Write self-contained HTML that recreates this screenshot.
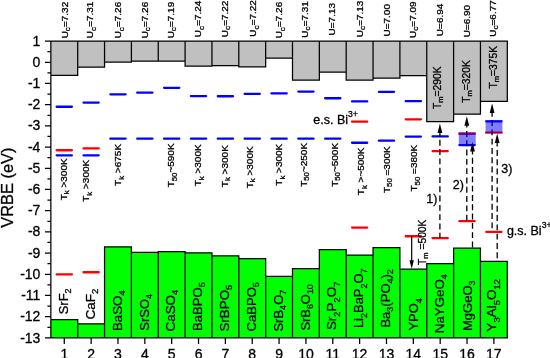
<!DOCTYPE html>
<html lang="en"><head><meta charset="utf-8"><title>VRBE diagram</title>
<style>html,body{margin:0;padding:0;background:#fff;}svg{display:block;}text{font-family:"Liberation Sans",sans-serif;fill:#000;stroke:#000;stroke-width:0.3px;}</style></head><body>
<svg width="550" height="358" viewBox="0 0 550 358">
<rect width="550" height="358" fill="#fff"/>
<rect x="50.85" y="41.05" width="26.85" height="34.35" fill="#c0c0c0"/>
<rect x="77.70" y="41.05" width="26.85" height="26.15" fill="#c0c0c0"/>
<rect x="104.55" y="41.05" width="26.85" height="21.05" fill="#c0c0c0"/>
<rect x="131.40" y="41.05" width="26.85" height="20.05" fill="#c0c0c0"/>
<rect x="158.25" y="41.05" width="26.85" height="20.05" fill="#c0c0c0"/>
<rect x="185.10" y="41.05" width="26.85" height="25.15" fill="#c0c0c0"/>
<rect x="211.95" y="41.05" width="26.85" height="24.55" fill="#c0c0c0"/>
<rect x="238.80" y="41.05" width="26.85" height="25.75" fill="#c0c0c0"/>
<rect x="265.65" y="41.05" width="26.85" height="17.05" fill="#c0c0c0"/>
<rect x="292.50" y="41.05" width="26.85" height="39.05" fill="#c0c0c0"/>
<rect x="319.35" y="41.05" width="26.85" height="31.15" fill="#c0c0c0"/>
<rect x="346.20" y="41.05" width="26.85" height="38.95" fill="#c0c0c0"/>
<rect x="373.05" y="41.05" width="26.85" height="37.15" fill="#c0c0c0"/>
<rect x="399.90" y="41.05" width="26.85" height="34.65" fill="#c0c0c0"/>
<rect x="426.75" y="41.05" width="26.85" height="80.65" fill="#c0c0c0"/>
<rect x="453.60" y="41.05" width="26.85" height="73.15" fill="#c0c0c0"/>
<rect x="480.45" y="41.05" width="26.85" height="60.35" fill="#c0c0c0"/>
<rect x="50.85" y="319.50" width="26.85" height="18.40" fill="#00ff00"/>
<rect x="77.70" y="323.80" width="26.85" height="14.10" fill="#00ff00"/>
<rect x="104.55" y="246.90" width="26.85" height="91.00" fill="#00ff00"/>
<rect x="131.40" y="252.40" width="26.85" height="85.50" fill="#00ff00"/>
<rect x="158.25" y="251.50" width="26.85" height="86.40" fill="#00ff00"/>
<rect x="185.10" y="252.90" width="26.85" height="85.00" fill="#00ff00"/>
<rect x="211.95" y="255.90" width="26.85" height="82.00" fill="#00ff00"/>
<rect x="238.80" y="258.60" width="26.85" height="79.30" fill="#00ff00"/>
<rect x="265.65" y="276.30" width="26.85" height="61.60" fill="#00ff00"/>
<rect x="292.50" y="268.60" width="26.85" height="69.30" fill="#00ff00"/>
<rect x="319.35" y="249.50" width="26.85" height="88.40" fill="#00ff00"/>
<rect x="346.20" y="255.20" width="26.85" height="82.70" fill="#00ff00"/>
<rect x="373.05" y="247.70" width="26.85" height="90.20" fill="#00ff00"/>
<rect x="399.90" y="269.00" width="26.85" height="68.90" fill="#00ff00"/>
<rect x="426.75" y="263.50" width="26.85" height="74.40" fill="#00ff00"/>
<rect x="453.60" y="248.20" width="26.85" height="89.70" fill="#00ff00"/>
<rect x="480.45" y="261.30" width="26.85" height="76.60" fill="#00ff00"/>
<path d="M50.85 40.43V338.52M44.95 41.05H507.92M44.95 337.9H507.92M50.23 75.40H78.32M50.23 319.50H78.32M77.70 41.05V75.40M77.70 319.50V337.9M77.08 67.20H105.17M77.08 323.80H105.17M104.55 41.05V67.20M104.55 246.90V337.9M103.93 62.10H132.02M103.93 246.90H132.02M131.40 41.05V62.10M131.40 246.90V337.9M130.78 61.10H158.87M130.78 252.40H158.87M158.25 41.05V61.10M158.25 251.50V337.9M157.63 61.10H185.72M157.63 251.50H185.72M185.10 41.05V66.20M185.10 251.50V337.9M184.48 66.20H212.57M184.48 252.90H212.57M211.95 41.05V66.20M211.95 252.90V337.9M211.33 65.60H239.42M211.33 255.90H239.42M238.80 41.05V66.80M238.80 255.90V337.9M238.18 66.80H266.27M238.18 258.60H266.27M265.65 41.05V66.80M265.65 258.60V337.9M265.03 58.10H293.12M265.03 276.30H293.12M292.50 41.05V80.10M292.50 268.60V337.9M291.88 80.10H319.97M291.88 268.60H319.97M319.35 41.05V80.10M319.35 249.50V337.9M318.73 72.20H346.82M318.73 249.50H346.82M346.20 41.05V80.00M346.20 249.50V337.9M345.58 80.00H373.67M345.58 255.20H373.67M373.05 41.05V80.00M373.05 247.70V337.9M372.43 78.20H400.52M372.43 247.70H400.52M399.90 41.05V78.20M399.90 247.70V337.9M399.28 75.70H427.37M399.28 269.00H427.37M426.75 41.05V121.70M426.75 263.50V337.9M426.13 121.70H454.22M426.13 263.50H454.22M453.60 41.05V121.70M453.60 248.20V337.9M452.98 114.20H481.07M452.98 248.20H481.07M480.45 41.05V114.20M480.45 248.20V337.9M479.83 101.40H507.92M479.83 261.30H507.92M507.30 41.05V101.40M507.30 261.30V337.9M44.95 62.25H50.85M44.95 83.46H50.85M44.95 104.66H50.85M44.95 125.86H50.85M44.95 147.07H50.85M44.95 168.27H50.85M44.95 189.47H50.85M44.95 210.68H50.85M44.95 231.88H50.85M44.95 253.09H50.85M44.95 274.29H50.85M44.95 295.49H50.85M44.95 316.70H50.85M47.45 51.65H50.85M47.45 72.86H50.85M47.45 94.06H50.85M47.45 115.26H50.85M47.45 136.47H50.85M47.45 157.67H50.85M47.45 178.87H50.85M47.45 200.08H50.85M47.45 221.28H50.85M47.45 242.48H50.85M47.45 263.69H50.85M47.45 284.89H50.85M47.45 306.09H50.85M47.45 327.30H50.85M64.28 337.9V344.00M91.12 337.9V344.00M117.97 337.9V344.00M144.83 337.9V344.00M171.68 337.9V344.00M198.53 337.9V344.00M225.38 337.9V344.00M252.22 337.9V344.00M279.08 337.9V344.00M305.93 337.9V344.00M332.78 337.9V344.00M359.63 337.9V344.00M386.48 337.9V344.00M413.33 337.9V344.00M440.18 337.9V344.00M467.03 337.9V344.00M493.88 337.9V344.00" fill="none" stroke="#000" stroke-width="1.25"/>
<g font-size="14" text-anchor="end">
<text x="40.4" y="45.65">1</text>
<text x="40.4" y="66.85">0</text>
<text x="40.4" y="88.06">-1</text>
<text x="40.4" y="109.26">-2</text>
<text x="40.4" y="130.46">-3</text>
<text x="40.4" y="151.67">-4</text>
<text x="40.4" y="172.87">-5</text>
<text x="40.4" y="194.07">-6</text>
<text x="40.4" y="215.28">-7</text>
<text x="40.4" y="236.48">-8</text>
<text x="40.4" y="257.69">-9</text>
<text x="40.4" y="278.89">-10</text>
<text x="40.4" y="300.09">-11</text>
<text x="40.4" y="321.30">-12</text>
<text x="40.4" y="342.50">-13</text>
</g>
<g font-size="14" text-anchor="middle">
<text x="64.28" y="359.2">1</text>
<text x="91.12" y="359.2">2</text>
<text x="117.97" y="359.2">3</text>
<text x="144.83" y="359.2">4</text>
<text x="171.68" y="359.2">5</text>
<text x="198.53" y="359.2">6</text>
<text x="225.38" y="359.2">7</text>
<text x="252.22" y="359.2">8</text>
<text x="279.08" y="359.2">9</text>
<text x="305.93" y="359.2">10</text>
<text x="332.78" y="359.2">11</text>
<text x="359.63" y="359.2">12</text>
<text x="386.48" y="359.2">13</text>
<text x="413.33" y="359.2">14</text>
<text x="440.18" y="359.2">15</text>
<text x="467.03" y="359.2">16</text>
<text x="493.88" y="359.2">17</text>
</g>
<text font-size="16.4" text-anchor="middle" transform="translate(13.1,187.6) rotate(-90)">VRBE (eV)</text>
<line x1="56.68" y1="106.75" x2="71.88" y2="106.75" stroke="#0000ff" stroke-width="2.3" stroke-linecap="round"/>
<line x1="83.53" y1="102.55" x2="98.72" y2="102.55" stroke="#0000ff" stroke-width="2.3" stroke-linecap="round"/>
<line x1="110.38" y1="94.35" x2="125.57" y2="94.35" stroke="#0000ff" stroke-width="2.3" stroke-linecap="round"/>
<line x1="137.23" y1="92.65" x2="152.43" y2="92.65" stroke="#0000ff" stroke-width="2.3" stroke-linecap="round"/>
<line x1="164.08" y1="87.85" x2="179.28" y2="87.85" stroke="#0000ff" stroke-width="2.3" stroke-linecap="round"/>
<line x1="190.93" y1="96.05" x2="206.12" y2="96.05" stroke="#0000ff" stroke-width="2.3" stroke-linecap="round"/>
<line x1="217.78" y1="96.25" x2="232.97" y2="96.25" stroke="#0000ff" stroke-width="2.3" stroke-linecap="round"/>
<line x1="244.62" y1="93.85" x2="259.82" y2="93.85" stroke="#0000ff" stroke-width="2.3" stroke-linecap="round"/>
<line x1="271.48" y1="93.45" x2="286.68" y2="93.45" stroke="#0000ff" stroke-width="2.3" stroke-linecap="round"/>
<line x1="298.32" y1="91.55" x2="313.53" y2="91.55" stroke="#0000ff" stroke-width="2.3" stroke-linecap="round"/>
<line x1="325.18" y1="98.25" x2="340.38" y2="98.25" stroke="#0000ff" stroke-width="2.3" stroke-linecap="round"/>
<line x1="352.03" y1="101.45" x2="367.23" y2="101.45" stroke="#0000ff" stroke-width="2.3" stroke-linecap="round"/>
<line x1="378.88" y1="91.85" x2="394.08" y2="91.85" stroke="#0000ff" stroke-width="2.3" stroke-linecap="round"/>
<line x1="405.73" y1="101.15" x2="420.93" y2="101.15" stroke="#0000ff" stroke-width="2.3" stroke-linecap="round"/>
<line x1="56.68" y1="155.35" x2="71.88" y2="155.35" stroke="#0000ff" stroke-width="2.3" stroke-linecap="round"/>
<line x1="83.53" y1="155.35" x2="98.72" y2="155.35" stroke="#0000ff" stroke-width="2.3" stroke-linecap="round"/>
<line x1="110.38" y1="138.65" x2="125.57" y2="138.65" stroke="#0000ff" stroke-width="2.3" stroke-linecap="round"/>
<line x1="137.23" y1="138.65" x2="152.43" y2="138.65" stroke="#0000ff" stroke-width="2.3" stroke-linecap="round"/>
<line x1="164.08" y1="138.65" x2="179.28" y2="138.65" stroke="#0000ff" stroke-width="2.3" stroke-linecap="round"/>
<line x1="190.93" y1="138.65" x2="206.12" y2="138.65" stroke="#0000ff" stroke-width="2.3" stroke-linecap="round"/>
<line x1="217.78" y1="138.65" x2="232.97" y2="138.65" stroke="#0000ff" stroke-width="2.3" stroke-linecap="round"/>
<line x1="244.62" y1="138.65" x2="259.82" y2="138.65" stroke="#0000ff" stroke-width="2.3" stroke-linecap="round"/>
<line x1="271.48" y1="138.65" x2="286.68" y2="138.65" stroke="#0000ff" stroke-width="2.3" stroke-linecap="round"/>
<line x1="298.32" y1="138.65" x2="313.53" y2="138.65" stroke="#0000ff" stroke-width="2.3" stroke-linecap="round"/>
<line x1="325.18" y1="138.65" x2="340.38" y2="138.65" stroke="#0000ff" stroke-width="2.3" stroke-linecap="round"/>
<line x1="352.03" y1="142.75" x2="367.23" y2="142.75" stroke="#0000ff" stroke-width="2.3" stroke-linecap="round"/>
<line x1="378.88" y1="140.65" x2="394.08" y2="140.65" stroke="#0000ff" stroke-width="2.3" stroke-linecap="round"/>
<line x1="405.73" y1="136.55" x2="420.93" y2="136.55" stroke="#0000ff" stroke-width="2.3" stroke-linecap="round"/>
<line x1="432.58" y1="136.45" x2="447.78" y2="136.45" stroke="#0000ff" stroke-width="2.3" stroke-linecap="round"/>
<line x1="56.68" y1="150.25" x2="71.88" y2="150.25" stroke="#ff0000" stroke-width="2.3" stroke-linecap="round"/>
<line x1="83.53" y1="148.45" x2="98.72" y2="148.45" stroke="#ff0000" stroke-width="2.3" stroke-linecap="round"/>
<line x1="352.03" y1="121.65" x2="367.23" y2="121.65" stroke="#ff0000" stroke-width="2.3" stroke-linecap="round"/>
<line x1="405.73" y1="119.35" x2="420.93" y2="119.35" stroke="#ff0000" stroke-width="2.3" stroke-linecap="round"/>
<line x1="432.58" y1="151.05" x2="447.78" y2="151.05" stroke="#ff0000" stroke-width="2.3" stroke-linecap="round"/>
<line x1="56.68" y1="274.45" x2="71.88" y2="274.45" stroke="#ff0000" stroke-width="2.3" stroke-linecap="round"/>
<line x1="83.53" y1="272.25" x2="98.72" y2="272.25" stroke="#ff0000" stroke-width="2.3" stroke-linecap="round"/>
<line x1="352.03" y1="227.55" x2="367.23" y2="227.55" stroke="#ff0000" stroke-width="2.3" stroke-linecap="round"/>
<line x1="405.73" y1="236.25" x2="420.93" y2="236.25" stroke="#ff0000" stroke-width="2.3" stroke-linecap="round"/>
<line x1="432.58" y1="238.15" x2="447.78" y2="238.15" stroke="#ff0000" stroke-width="2.3" stroke-linecap="round"/>
<line x1="459.43" y1="221.15" x2="474.63" y2="221.15" stroke="#ff0000" stroke-width="2.3" stroke-linecap="round"/>
<line x1="486.28" y1="231.95" x2="501.48" y2="231.95" stroke="#ff0000" stroke-width="2.3" stroke-linecap="round"/>
<line x1="459.23" y1="133.75" x2="474.83" y2="133.75" stroke="#ff0000" stroke-width="2.3" stroke-linecap="round"/>
<line x1="459.43" y1="145.05" x2="474.63" y2="145.05" stroke="#0000ff" stroke-width="2.3" stroke-linecap="round"/>
<line x1="486.28" y1="121.45" x2="501.48" y2="121.45" stroke="#0000ff" stroke-width="2.3" stroke-linecap="round"/>
<line x1="486.08" y1="132.65" x2="501.68" y2="132.65" stroke="#ff0000" stroke-width="2.3" stroke-linecap="round"/>
<line x1="439.9" y1="132.60" x2="439.9" y2="238.0" stroke="#000" stroke-width="1.3" stroke-dasharray="5.9 3.4" stroke-dashoffset="2.10"/>
<line x1="466.8" y1="125.30" x2="466.8" y2="221.0" stroke="#000" stroke-width="1.3" stroke-dasharray="5.9 3.4" stroke-dashoffset="3.60"/>
<line x1="472.5" y1="151.10" x2="472.5" y2="248.2" stroke="#000" stroke-width="1.3" stroke-dasharray="5.9 3.4" stroke-dashoffset="2.60"/>
<line x1="492.1" y1="112.50" x2="492.1" y2="231.8" stroke="#000" stroke-width="1.3" stroke-dasharray="5.9 3.4" stroke-dashoffset="1.70"/>
<line x1="497.2" y1="142.50" x2="497.2" y2="261.3" stroke="#000" stroke-width="1.3" stroke-dasharray="5.9 3.4" stroke-dashoffset="1.80"/>
<rect x="458.8" y="132.2" width="16.9" height="13.5" fill="#0000ff" fill-opacity="0.5"/>
<rect x="485.6" y="120.0" width="16.8" height="12.9" fill="#0000ff" fill-opacity="0.5"/>
<polygon points="439.9,123.5 437.5,133.1 442.29999999999995,133.1" fill="#000"/>
<polygon points="466.8,116.2 464.40000000000003,125.8 469.2,125.8" fill="#000"/>
<polygon points="472.5,142.0 470.1,151.6 474.9,151.6" fill="#000"/>
<polygon points="492.1,103.4 489.70000000000005,113.0 494.5,113.0" fill="#000"/>
<polygon points="497.2,133.4 494.8,143.0 499.59999999999997,143.0" fill="#000"/>
<line x1="411.7" y1="236.1" x2="411.7" y2="262" stroke="#000" stroke-width="1.2"/>
<polygon points="411.7,268.8 409.5,260.3 413.9,260.3" fill="#000"/>
<g font-size="13.3" stroke-width="0.22" text-anchor="middle">
<text xml:space="preserve" transform="translate(67.98,301.35) rotate(-90) scale(0.976,1)">SrF<tspan font-size="9.2" dy="3.3">2</tspan></text>
<text xml:space="preserve" transform="translate(94.83,304.20) rotate(-90) scale(1.019,1)">CaF<tspan font-size="9.2" dy="3.3">2</tspan></text>
<text xml:space="preserve" transform="translate(122.17,310.75) rotate(-90) scale(1.002,1)">BaSO<tspan font-size="9.2" dy="3.3">4</tspan></text>
<text xml:space="preserve" transform="translate(149.03,312.35) rotate(-90) scale(0.975,1)">SrSO<tspan font-size="9.2" dy="3.3">4</tspan></text>
<text xml:space="preserve" transform="translate(174.78,310.65) rotate(-90) scale(1.014,1)">CaSO<tspan font-size="9.2" dy="3.3">4</tspan></text>
<text xml:space="preserve" transform="translate(202.12,306.60) rotate(-90) scale(0.990,1)">BaBPO<tspan font-size="9.2" dy="3.3">5</tspan></text>
<text xml:space="preserve" transform="translate(228.97,308.15) rotate(-90) scale(1.008,1)">SrBPO<tspan font-size="9.2" dy="3.3">5</tspan></text>
<text xml:space="preserve" transform="translate(255.82,306.85) rotate(-90) scale(0.986,1)">CaBPO<tspan font-size="9.2" dy="3.3">5</tspan></text>
<text xml:space="preserve" transform="translate(282.68,310.65) rotate(-90) scale(0.980,1)">SrB<tspan font-size="9.2" dy="3.3">4</tspan><tspan dy="-3.3">O</tspan><tspan font-size="9.2" dy="3.3">7</tspan></text>
<text xml:space="preserve" transform="translate(309.53,307.40) rotate(-90) scale(0.970,1)">SrB<tspan font-size="9.2" dy="3.3">6</tspan><tspan dy="-3.3">O</tspan><tspan font-size="9.2" dy="3.3">10</tspan></text>
<text xml:space="preserve" transform="translate(336.38,305.90) rotate(-90) scale(1.011,1)">Sr<tspan font-size="9.2" dy="3.3">2</tspan><tspan dy="-3.3">P</tspan><tspan font-size="9.2" dy="3.3">2</tspan><tspan dy="-3.3">O</tspan><tspan font-size="9.2" dy="3.3">7</tspan></text>
<text xml:space="preserve" transform="translate(363.23,298.25) rotate(-90) scale(0.976,1)">Li<tspan font-size="9.2" dy="3.3">2</tspan><tspan dy="-3.3">BaP</tspan><tspan font-size="9.2" dy="3.3">2</tspan><tspan dy="-3.3">O</tspan><tspan font-size="9.2" dy="3.3">7</tspan></text>
<text xml:space="preserve" transform="translate(390.08,298.35) rotate(-90) scale(0.980,1)">Ba<tspan font-size="9.2" dy="3.3">3</tspan><tspan dy="-3.3">(PO</tspan><tspan font-size="9.2" dy="3.3">4</tspan><tspan dy="-3.3">)</tspan><tspan font-size="9.2" dy="3.3">2</tspan></text>
<text xml:space="preserve" transform="translate(418.23,314.40) rotate(-90) scale(0.970,1)">YPO<tspan font-size="9.2" dy="3.3">4</tspan></text>
<text xml:space="preserve" transform="translate(443.78,303.60) rotate(-90) scale(1.002,1)">NaYGeO<tspan font-size="9.2" dy="3.3">4</tspan></text>
<text xml:space="preserve" transform="translate(471.63,305.73) rotate(-90) scale(0.982,1)">MgGeO<tspan font-size="9.2" dy="3.3">3</tspan></text>
<text xml:space="preserve" transform="translate(496.48,305.35) rotate(-90) scale(1.023,1)">Y<tspan font-size="9.2" dy="3.3">3</tspan><tspan dy="-3.3">Al</tspan><tspan font-size="9.2" dy="3.3">5</tspan><tspan dy="-3.3">O</tspan><tspan font-size="9.2" dy="3.3">12</tspan></text>
</g>
<g font-size="10" text-anchor="middle">
<text xml:space="preserve" transform="translate(66.55,179.35) rotate(-90) scale(1,0.92)">T<tspan font-size="7.8" dy="2.8">k</tspan><tspan dy="-2.8"> &gt;300K</tspan></text>
<text xml:space="preserve" transform="translate(89.25,180.80) rotate(-90) scale(1,0.92)">T<tspan font-size="7.8" dy="2.8">k</tspan><tspan dy="-2.8"> &gt;300K</tspan></text>
<text xml:space="preserve" transform="translate(121.45,164.90) rotate(-90) scale(1,0.92)">T<tspan font-size="7.8" dy="2.8">k</tspan><tspan dy="-2.8"> &gt;675K</tspan></text>
<text xml:space="preserve" transform="translate(174.25,165.40) rotate(-90) scale(1,0.92)">T<tspan font-size="7.8" dy="2.8">50</tspan><tspan dy="-2.8">~590K</tspan></text>
<text xml:space="preserve" transform="translate(201.45,165.35) rotate(-90) scale(1,0.92)">T<tspan font-size="7.8" dy="2.8">k</tspan><tspan dy="-2.8"> &gt;300K</tspan></text>
<text xml:space="preserve" transform="translate(227.85,166.15) rotate(-90) scale(1,0.92)">T<tspan font-size="7.8" dy="2.8">k</tspan><tspan dy="-2.8"> &gt;300K</tspan></text>
<text xml:space="preserve" transform="translate(252.55,167.35) rotate(-90) scale(1,0.92)">T<tspan font-size="7.8" dy="2.8">k</tspan><tspan dy="-2.8"> &gt;300K</tspan></text>
<text xml:space="preserve" transform="translate(282.25,164.70) rotate(-90) scale(1,0.92)">T<tspan font-size="7.8" dy="2.8">k</tspan><tspan dy="-2.8"> &gt;300K</tspan></text>
<text xml:space="preserve" transform="translate(306.85,164.90) rotate(-90) scale(1,0.92)">T<tspan font-size="7.8" dy="2.8">50</tspan><tspan dy="-2.8">~250K</tspan></text>
<text xml:space="preserve" transform="translate(337.55,164.90) rotate(-90) scale(1,0.92)">T<tspan font-size="7.8" dy="2.8">50</tspan><tspan dy="-2.8">~500K</tspan></text>
<text xml:space="preserve" transform="translate(364.45,171.35) rotate(-90) scale(1,0.92)">T<tspan font-size="7.8" dy="2.8">k</tspan><tspan dy="-2.8"> &gt;~500K</tspan></text>
<text xml:space="preserve" transform="translate(389.55,169.70) rotate(-90) scale(1,0.92)">T<tspan font-size="7.8" dy="2.8">50</tspan><tspan dy="-2.8"> =300K</tspan></text>
<text xml:space="preserve" transform="translate(417.05,168.15) rotate(-90) scale(1,0.92)">T<tspan font-size="7.8" dy="2.8">50</tspan><tspan dy="-2.8"> =380K</tspan></text>
</g>
<g font-size="10" text-anchor="middle">
<text transform="translate(67.80,20.10) rotate(-90) scale(1,0.94)">U<tspan font-size="8.2" dy="2.6">c</tspan><tspan dy="-2.6">=7.32</tspan></text>
<text transform="translate(93.40,19.90) rotate(-90) scale(1,0.94)">U<tspan font-size="8.2" dy="2.6">c</tspan><tspan dy="-2.6">=7.31</tspan></text>
<text transform="translate(121.30,20.10) rotate(-90) scale(1,0.94)">U<tspan font-size="8.2" dy="2.6">c</tspan><tspan dy="-2.6">=7.26</tspan></text>
<text transform="translate(147.50,20.10) rotate(-90) scale(1,0.94)">U<tspan font-size="8.2" dy="2.6">c</tspan><tspan dy="-2.6">=7.26</tspan></text>
<text transform="translate(173.60,20.10) rotate(-90) scale(1,0.94)">U<tspan font-size="8.2" dy="2.6">c</tspan><tspan dy="-2.6">=7.19</tspan></text>
<text transform="translate(201.30,18.90) rotate(-90) scale(1,0.94)">U<tspan font-size="8.2" dy="2.6">c</tspan><tspan dy="-2.6">=7.24</tspan></text>
<text transform="translate(228.00,18.90) rotate(-90) scale(1,0.94)">U<tspan font-size="8.2" dy="2.6">c</tspan><tspan dy="-2.6">=7.22</tspan></text>
<text transform="translate(256.10,18.40) rotate(-90) scale(1,0.94)">U<tspan font-size="8.2" dy="2.6">c</tspan><tspan dy="-2.6">=7.22</tspan></text>
<text transform="translate(282.40,20.10) rotate(-90) scale(1,0.94)">U<tspan font-size="8.2" dy="2.6">c</tspan><tspan dy="-2.6">=7.26</tspan></text>
<text transform="translate(307.80,19.40) rotate(-90) scale(1,0.94)">U<tspan font-size="8.2" dy="2.6">c</tspan><tspan dy="-2.6">=7.31</tspan></text>
<text transform="translate(334.50,19.20) rotate(-90) scale(1,0.94)">U=7.13</text>
<text transform="translate(362.60,18.90) rotate(-90) scale(1,0.94)">U<tspan font-size="8.2" dy="2.6">c</tspan><tspan dy="-2.6">=7.13</tspan></text>
<text transform="translate(389.60,20.30) rotate(-90) scale(1,0.94)">U=7.00</text>
<text transform="translate(415.60,19.70) rotate(-90) scale(1,0.94)">U<tspan font-size="8.2" dy="2.6">c</tspan><tspan dy="-2.6">=7.09</tspan></text>
<text transform="translate(443.00,19.90) rotate(-90) scale(1,0.94)">U=6.94</text>
<text transform="translate(470.00,21.10) rotate(-90) scale(1,0.94)">U=6.90</text>
<text transform="translate(495.60,18.50) rotate(-90) scale(1,0.94)">U<tspan font-size="8.2" dy="2.6">c</tspan><tspan dy="-2.6">=6.77</tspan></text>
</g>
<g font-size="10.3">
<text transform="translate(440.9,109.1) rotate(-90)">T<tspan font-size="7.5" dy="2.4">m</tspan><tspan dy="-2.4">=290K</tspan></text>
<text transform="translate(469.5,102.8) rotate(-90)">T<tspan font-size="7.5" dy="2.4">m</tspan><tspan dy="-2.4">=320K</tspan></text>
<text transform="translate(496.6,88.6) rotate(-90)">T<tspan font-size="7.5" dy="2.4">m</tspan><tspan dy="-2.4">=375K</tspan></text>
</g>
<text font-size="10.3" xml:space="preserve" transform="translate(425.6,265.0) rotate(-90)">T<tspan font-size="7.5" dy="2.4">m</tspan><tspan dy="-2.4"> =500K</tspan></text>
<text font-size="12.5" x="313.3" y="123.8">e.s. Bi<tspan font-size="8.6" dy="-6.9">3+</tspan></text>
<text font-size="12.5" x="506.9" y="235.2">g.s. Bi<tspan font-size="8.6" dy="-6.9">3+</tspan></text>
<text font-size="12.5" x="426.3" y="203.3">1)</text>
<text font-size="12.5" x="452.8" y="189.3">2)</text>
<text font-size="12.5" x="501.3" y="172.6">3)</text>
</svg></body></html>
